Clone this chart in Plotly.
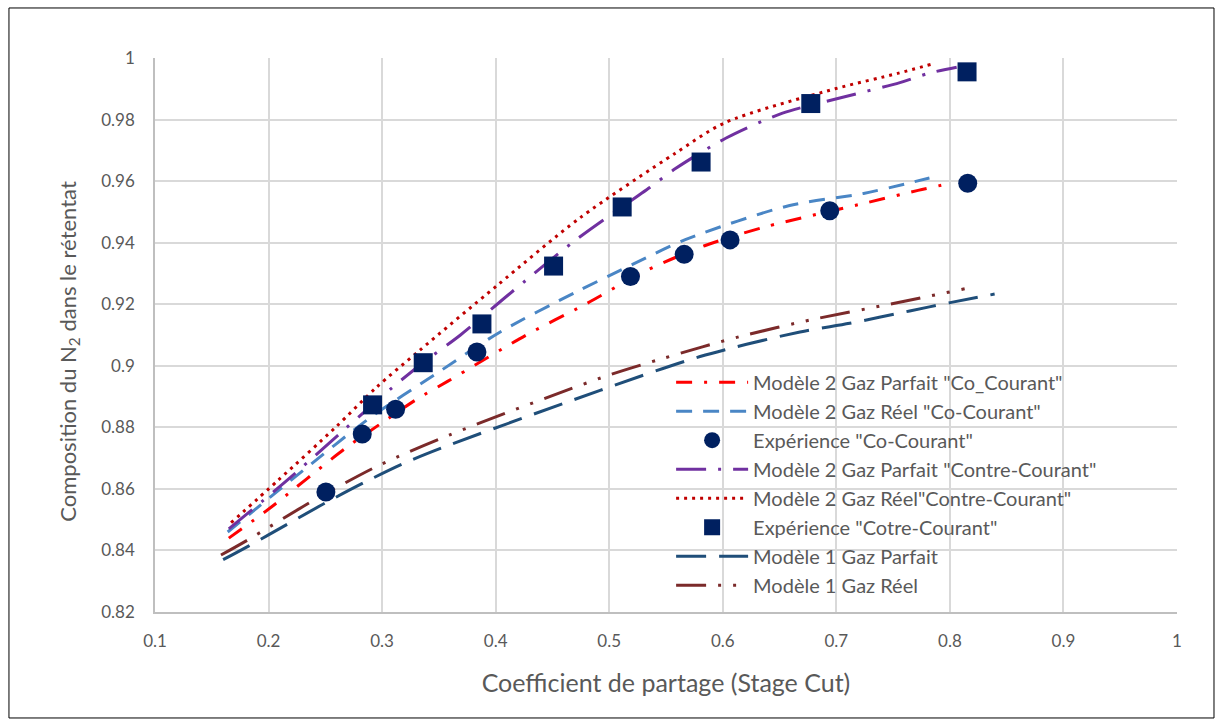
import plotly.graph_objects as go

# ---- data: stage cut (x) vs N2 mole fraction in the retentate (y) ----
x_m2_gp_co = [0.165, 0.201, 0.267, 0.298, 0.330, 0.358, 0.427, 0.479, 0.533, 0.584, 0.636, 0.727, 0.772, 0.797]
y_m2_gp_co = [0.844, 0.8537, 0.873, 0.881, 0.889, 0.895, 0.910, 0.920, 0.931, 0.939, 0.945, 0.953, 0.957, 0.959]

x_m2_gr_co = [0.164, 0.2305, 0.289, 0.350, 0.404, 0.471, 0.521, 0.567, 0.658, 0.724, 0.782]
y_m2_gr_co = [0.846, 0.866, 0.883, 0.898, 0.911, 0.924, 0.933, 0.941, 0.952, 0.956, 0.961]

x_exp_co = [0.2505, 0.2825, 0.3119, 0.3835, 0.5187, 0.566, 0.6064, 0.6942, 0.8157]
y_exp_co = [0.859, 0.8778, 0.8859, 0.9045, 0.929, 0.9362, 0.9409, 0.9504, 0.9593]

x_m2_gp_contre = [0.165, 0.217, 0.266, 0.306, 0.336, 0.369, 0.411, 0.471, 0.536, 0.558, 0.603, 0.652, 0.703, 0.756, 0.781, 0.806]
y_m2_gp_contre = [0.847, 0.863, 0.879, 0.892, 0.901, 0.910, 0.923, 0.941, 0.958, 0.964, 0.974, 0.982, 0.987, 0.992, 0.995, 0.997]

x_m2_gr_contre = [0.167, 0.209, 0.259, 0.295, 0.333, 0.401, 0.474, 0.558, 0.602, 0.699, 0.754, 0.784]
y_m2_gr_contre = [0.849, 0.863, 0.880, 0.893, 0.905, 0.926, 0.948, 0.969, 0.979, 0.990, 0.995, 0.998]

x_exp_contre = [0.2916, 0.3362, 0.3879, 0.451, 0.5114, 0.5809, 0.6775, 0.8151]
y_exp_contre = [0.8873, 0.901, 0.9136, 0.9324, 0.9516, 0.9662, 0.9852, 0.9955]

x_m1_gp = [0.160, 0.1827, 0.2165, 0.2503, 0.2849, 0.3192, 0.3553, 0.492, 0.580, 0.668, 0.7118, 0.7646, 0.8013, 0.8394]
y_m1_gp = [0.837, 0.8415, 0.8485, 0.8555, 0.8622, 0.8683, 0.8737, 0.892, 0.903, 0.911, 0.9138, 0.9178, 0.9206, 0.9233]

x_m1_gr = [0.1581, 0.1807, 0.2394, 0.2981, 0.3591, 0.4976, 0.5474, 0.615, 0.681, 0.747, 0.813]
y_m1_gr = [0.8385, 0.8432, 0.8562, 0.8678, 0.8775, 0.8967, 0.9024, 0.9095, 0.9152, 0.920, 0.925]

names = [
    'Modèle 2 Gaz Parfait "Co_Courant"',
    'Modèle 2 Gaz Réel "Co-Courant"',
    'Expérience "Co-Courant"',
    'Modèle 2 Gaz Parfait "Contre-Courant"',
    'Modèle 2 Gaz Réel"Contre-Courant"',
    'Expérience "Cotre-Courant"',
    'Modèle 1 Gaz Parfait',
    'Modèle 1 Gaz Réel',
]

FONT = "Lato"
TXT = "#595959"
GRID = "#D9D9D9"

fig = go.Figure()

# model curves (drawn first, under the markers)
lines = [
    (0, x_m2_gp_co, y_m2_gp_co, "#FF0000", "16px,12px,3px,12px"),
    (1, x_m2_gr_co, y_m2_gr_co, "#4A86C5", "16px,11px"),
    (3, x_m2_gp_contre, y_m2_gp_contre, "#7030A0", "30px,12px,3px,12px"),
    (4, x_m2_gr_contre, y_m2_gr_contre, "#C00000", "3px,5px"),
    (6, x_m1_gp, y_m1_gp, "#1F4E79", "30px,13px"),
    (7, x_m1_gr, y_m1_gr, "#7B2A2A", "30px,12px,3px,12px,3px,12px"),
]
for idx, xs, ys, col, dash in lines:
    fig.add_trace(go.Scatter(
        x=xs, y=ys, mode="lines", name=names[idx],
        line=dict(color=col, width=3, dash=dash, shape="spline", smoothing=0.8),
        legendrank=idx + 1, legendgroup=f"g{idx}",
    ))

# experimental points
fig.add_trace(go.Scatter(
    x=x_exp_co, y=y_exp_co, mode="markers", name=names[2],
    marker=dict(symbol="circle", size=19, color="#002060", line=dict(width=0)),
    legendrank=3, legendgroup="g2",
))
fig.add_trace(go.Scatter(
    x=x_exp_contre, y=y_exp_contre, mode="markers", name=names[5],
    marker=dict(symbol="square", size=19, color="#002060", line=dict(width=0)),
    legendrank=6, legendgroup="g5",
))

# outer frame of the chart
fig.add_shape(type="rect", xref="paper", yref="paper",
              x0=-0.1429, x1=1.0362, y0=-0.1913, y1=1.0903,
              line=dict(color="#000000", width=1), layer="above")

# y-axis title, placed as a rotated annotation
fig.add_annotation(
    text="Composition du N<sub>2</sub> dans le rétentat",
    xref="paper", yref="paper", x=-0.085, y=0.47,
    xanchor="center", yanchor="middle", textangle=-90, showarrow=False,
    font=dict(size=22, color=TXT, family=FONT),
)

fig.update_layout(
    width=1220, height=726,
    margin=dict(l=155, r=43, t=58, b=114),
    paper_bgcolor="white", plot_bgcolor="white",
    font=dict(family=FONT, color=TXT, size=17),
    legend=dict(
        x=0.505, y=0.45, xanchor="left", yanchor="top",
        bgcolor="rgba(0,0,0,0)", font=dict(size=20, color=TXT, family=FONT),
        tracegroupgap=0, itemwidth=72,
    ),
    showlegend=True,
)
fig.update_xaxes(
    range=[0.1, 1], dtick=0.1, tick0=0.1,
    showgrid=True, gridcolor=GRID, gridwidth=1.5,
    showline=True, linecolor="#BFBFBF", linewidth=1.5, mirror=False,
    zeroline=False, ticks="", ticklabelstandoff=13,
    tickfont=dict(size=17, color=TXT),
    title=dict(text="Coefficient de partage (Stage Cut)", font=dict(size=25, color=TXT), standoff=24),
)
fig.update_yaxes(
    range=[0.82, 1], dtick=0.02, tick0=0.82,
    showgrid=True, gridcolor=GRID, gridwidth=1.5,
    showline=True, linecolor="#BFBFBF", linewidth=1.5,
    zeroline=False, ticks="", ticklabelstandoff=15,
    tickfont=dict(size=17, color=TXT),
)

fig.write_html("out.html")
